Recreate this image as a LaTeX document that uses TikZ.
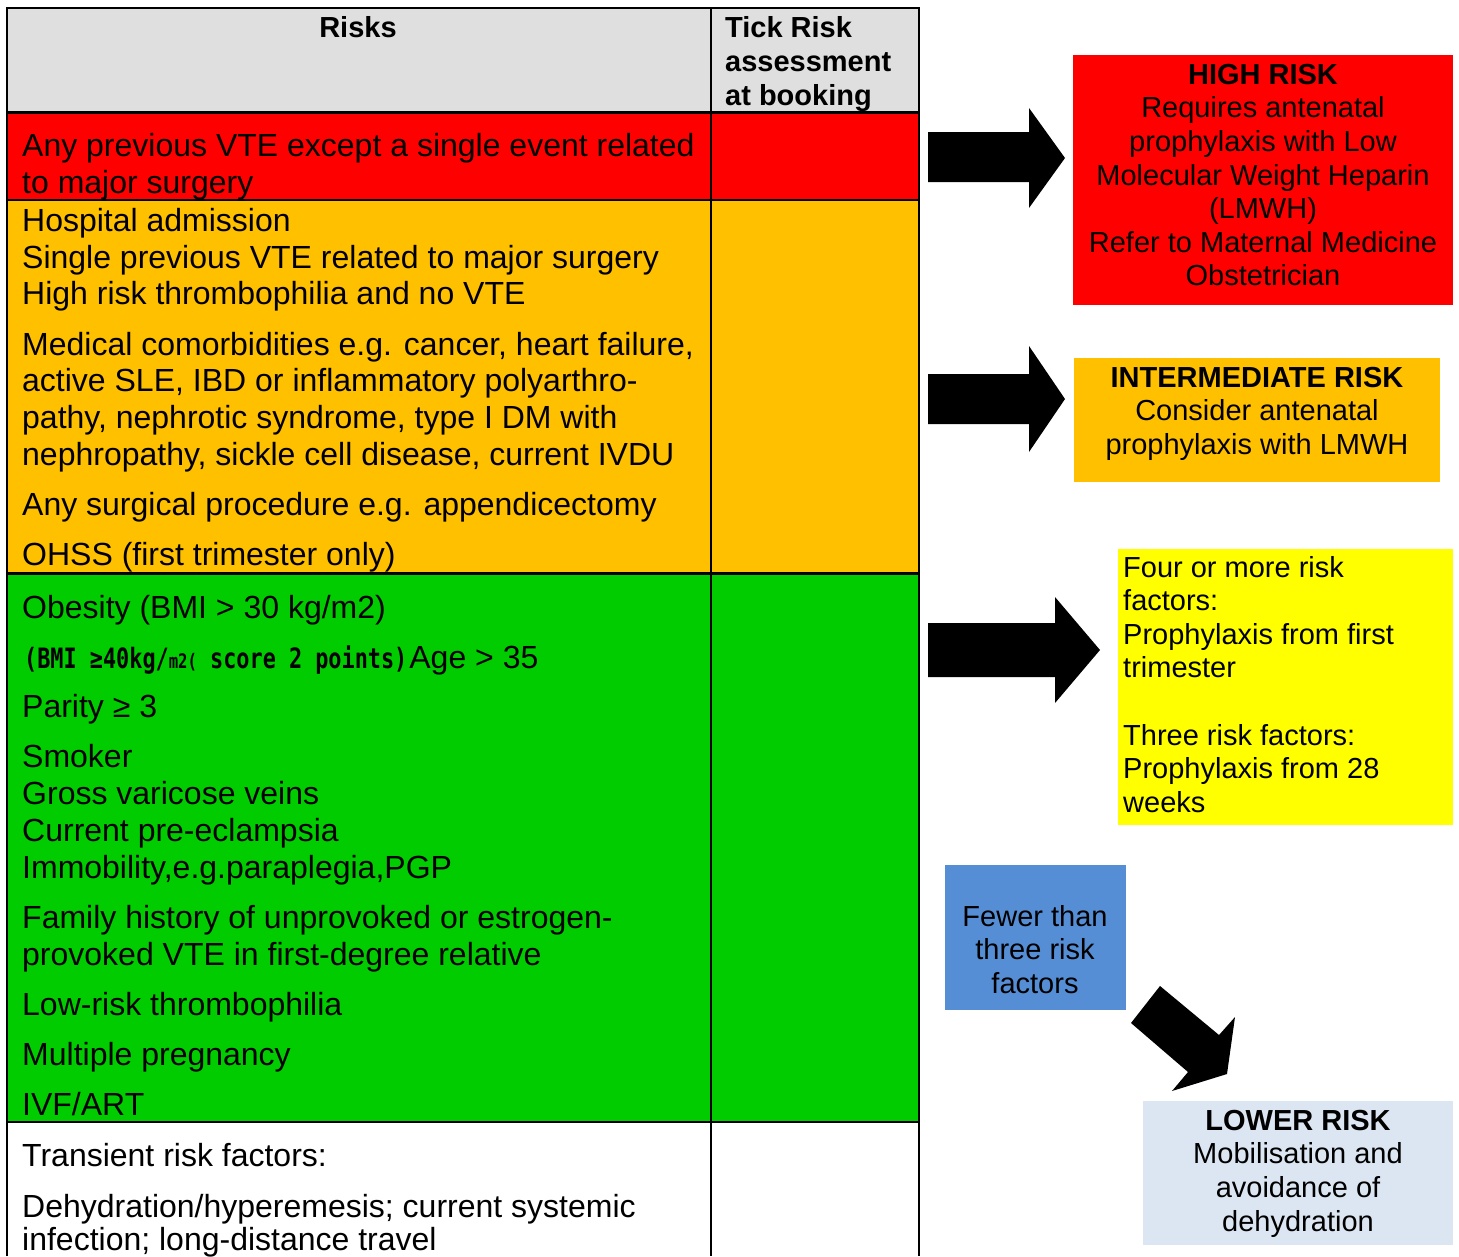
\documentclass[tikz,border=0pt]{standalone}
\usepackage{fontspec}
\setmainfont{Liberation Sans}
\newfontfamily\bmifont{DejaVu Sans Mono}
\definecolor{hdgray}{HTML}{DFDFDF}
\definecolor{rred}{HTML}{FF0000}
\definecolor{rorange}{HTML}{FFC000}
\definecolor{rgreen}{HTML}{00CC00}
\definecolor{ryellow}{HTML}{FFFF00}
\definecolor{rblue}{HTML}{558ED5}
\definecolor{rlight}{HTML}{DCE6F2}
\begin{document}
\begin{tikzpicture}[x=1pt,y=-1pt,
  tx/.style={anchor=base west,inner sep=0pt,font=\fontsize{32}{37}\selectfont},
  bx/.style={anchor=base,inner sep=0pt,font=\fontsize{29}{34}\selectfont},
  bxb/.style={bx,font=\fontsize{29}{34}\selectfont\bfseries},
  bxl/.style={anchor=base west,inner sep=0pt,font=\fontsize{29}{34}\selectfont},
  hd/.style={anchor=base west,inner sep=0pt,font=\fontsize{29}{34}\selectfont\bfseries},
  box/.style={anchor=north west,inner sep=0pt,outer sep=0pt},
  blockarrow/.style={fill=black}]
\useasboundingbox (0,0) rectangle (1459,1256);
% table fills
\fill[hdgray] (7,8) rectangle (919,112);
\fill[rred] (7,112) rectangle (919,200);
\fill[rorange] (7,200) rectangle (919,573);
\fill[rgreen] (7,573) rectangle (919,1122);
% table lines
\draw[line width=2pt] (7,1256) -- (7,8) -- (919,8) -- (919,1256);
\draw[line width=1.5pt] (711,8) -- (711,1256);
\draw[line width=3pt] (7,112) -- (919,112);
\draw[line width=2.5pt] (7,200) -- (919,200);
\draw[line width=3pt] (7,573) -- (919,573);
\draw[line width=2.5pt] (7,1122) -- (919,1122);
% header
\node[hd,anchor=base] (hrisks) at (358,37) {Risks};
\node[hd] (htick1) at (725,37) {Tick Risk};
\node[hd] (htick2) at (725,71) {assessment};
\node[hd] (htick3) at (725,105) {at booking};
% red row
\node[tx] (r1) at (22,156) {Any previous VTE except a single event related};
\node[tx] (r2) at (22,193) {to major surgery};
% orange row
\node[tx] (o1) at (22,231) {Hospital admission};
\node[tx] (o2) at (22,268) {Single previous VTE related to major surgery};
\node[tx] (o3) at (22,304) {High risk thrombophilia and no VTE};
\node[tx] (o4) at (22,355) {Medical comorbidities e.g. cancer, heart failure,};
\node[tx] (o5) at (22,391) {active SLE, IBD or inflammatory polyarthro-};
\node[tx] (o6) at (22,428) {pathy, nephrotic syndrome, type I DM with};
\node[tx] (o7) at (22,465) {nephropathy, sickle cell disease, current IVDU};
\node[tx] (o8) at (22,515) {Any surgical procedure e.g. appendicectomy};
\node[tx] (o9) at (22,565) {OHSS (first trimester only)};
% green row
\node[tx] (g1) at (22,618) {Obesity (BMI > 30 kg/m2)};
\node[tx] (g2) at (24,668) {{\fontsize{28}{30}\bmifont\bfseries\scalebox{0.78}[1]{(BMI ≥40kg/{\fontsize{20}{20}\selectfont m2(} score 2 points)}}\hspace{2pt}Age > 35};
\node[tx] (g3) at (22,717) {Parity ≥ 3};
\node[tx] (g4) at (22,767) {Smoker};
\node[tx] (g5) at (22,804) {Gross varicose veins};
\node[tx] (g6) at (22,841) {Current pre-eclampsia};
\node[tx] (g7) at (22,878) {Immobility,e.g.paraplegia,PGP};
\node[tx] (g8) at (22,928) {Family history of unprovoked or estrogen-};
\node[tx] (g9) at (22,965) {provoked VTE in first-degree relative};
\node[tx] (g10) at (22,1015) {Low-risk thrombophilia};
\node[tx] (g11) at (22,1065) {Multiple pregnancy};
\node[tx] (g12) at (22,1115) {IVF/ART};
% white row
\node[tx] (w1) at (22,1166) {Transient risk factors:};
\node[tx] (w2) at (22,1217) {Dehydration/hyperemesis; current systemic};
\node[tx] (w3) at (22,1250) {infection; long-distance travel};
% right boxes
\node[box,fill=rred,minimum width=380,minimum height=250] (high) at (1073,55) {};
\node[bxb] (h1) at (1263,84) {HIGH RISK};
\node[bx] (h2) at (1263,117) {Requires antenatal};
\node[bx] (h3) at (1263,151) {prophylaxis with Low};
\node[bx] (h4) at (1263,185) {Molecular Weight Heparin};
\node[bx] (h5) at (1263,218) {(LMWH)};
\node[bx] (h6) at (1263,252) {Refer to Maternal Medicine};
\node[bx] (h7) at (1263,285) {Obstetrician};
\node[box,fill=rorange,minimum width=366,minimum height=124] (inter) at (1074,358) {};
\node[bxb] (i1) at (1257,387) {INTERMEDIATE RISK};
\node[bx] (i2) at (1257,420) {Consider antenatal};
\node[bx] (i3) at (1257,454) {prophylaxis with LMWH};
\node[box,fill=ryellow,minimum width=335,minimum height=276] (yel) at (1118,549) {};
\node[bxl] (y1) at (1123,577) {Four or more risk};
\node[bxl] (y2) at (1123,610) {factors:};
\node[bxl] (y3) at (1123,644) {Prophylaxis from first};
\node[bxl] (y4) at (1123,677) {trimester};
\node[bxl] (y5) at (1123,745) {Three risk factors:};
\node[bxl] (y6) at (1123,778) {Prophylaxis from 28};
\node[bxl] (y7) at (1123,812) {weeks};
\node[box,fill=rblue,minimum width=181,minimum height=145] (fewer) at (945,865) {};
\node[bx] (f1) at (1035,926) {Fewer than};
\node[bx] (f2) at (1035,959) {three risk};
\node[bx] (f3) at (1035,993) {factors};
\node[box,fill=rlight,minimum width=310,minimum height=144] (lower) at (1143,1101) {};
\node[bxb] (l1) at (1298,1130) {LOWER RISK};
\node[bx] (l2) at (1298,1163) {Mobilisation and};
\node[bx] (l3) at (1298,1197) {avoidance of};
\node[bx] (l4) at (1298,1231) {dehydration};
% block arrows
\fill[blockarrow] (928,132) -- (1029,132) -- (1029,108) -- (1065,158) -- (1029,208) -- (1029,182) -- (928,182) -- cycle;
\fill[blockarrow] (928,374) -- (1029,374) -- (1029,346) -- (1065,399) -- (1029,452) -- (1029,424) -- (928,424) -- cycle;
\fill[blockarrow] (928,623) -- (1055,623) -- (1055,597) -- (1100,650) -- (1055,703) -- (1055,677) -- (928,677) -- cycle;
\fill[blockarrow] (1160,986) -- (1219,1035) -- (1235,1017) -- (1227,1074) -- (1172,1091) -- (1188,1072) -- (1131,1023) -- cycle;
\end{tikzpicture}
\end{document}
